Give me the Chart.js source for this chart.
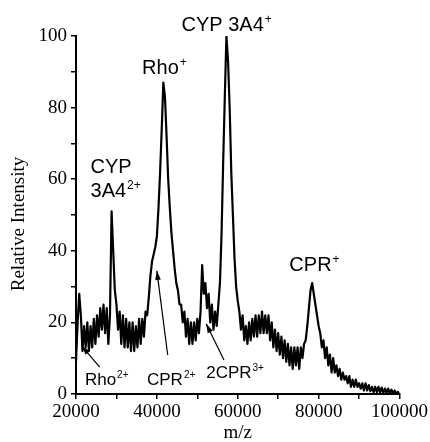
<!DOCTYPE html>
<html>
<head>
<meta charset="utf-8">
<script src="https://cdn.jsdelivr.net/npm/chart.js@4"></script>
<style>
  body { margin: 0; background: #fff; }
  canvas { display: block; }
</style>
</head>
<body>
<canvas id="chart" width="430" height="442"></canvas>
<script>
// spectrum sampled every 400 m/z from 20000 to 100000
const mzStart = 20000;
const mzStep = 400;
const intensity = [
  9, 20, 28, 22, 12, 19, 13, 20, 12, 19,       // 20000
  13, 21, 14, 22, 16, 24, 18, 25, 17, 24,      // 24000
  14, 22, 51, 40, 29, 25, 18, 23, 14, 22,      // 28000
  13, 21, 13, 20, 12, 20, 12, 19, 13, 21,      // 32000
  14, 21, 16, 23, 22, 27, 33, 37, 39, 41,      // 36000
  44, 52, 62, 74, 87, 83, 72, 60, 52, 45,      // 40000
  40, 35, 31, 29, 25, 25, 20, 23, 16, 21,      // 44000
  14, 20, 14, 20, 15, 21, 17, 23, 36, 28,      // 48000
  31, 24, 28, 20, 25, 18, 23, 19, 25, 31,      // 52000
  45, 65, 83, 100, 93, 80, 62, 50, 38, 30,     // 56000
  26, 23, 18, 22, 15, 19, 14, 20, 15, 21,      // 60000
  16, 22, 16, 22, 17, 23, 17, 22, 17, 22,      // 64000
  15, 20, 13, 18, 12, 17, 11, 16, 10, 15,      // 68000
  9, 14, 8, 13, 7, 13, 8, 13, 7, 13,           // 72000
  10, 14, 15, 19, 24, 29, 31, 28, 25, 22,      // 76000
  19, 17, 13, 15, 10, 13, 8, 11, 6, 10,        // 80000
  6, 8, 5, 7, 4, 6, 4, 5, 3, 5,                // 84000
  2, 4, 2, 4, 2, 3, 1.5, 3, 1, 3,              // 88000
  1, 2.5, 0.8, 2, 0.5, 2, 0.5, 2, 0.4, 1.8,    // 92000
  0.3, 1.5, 0.3, 1.5, 0.2, 1.2, 0.2, 1, 0.1, 0.6, // 96000
  0
];

const xTicks = [20000, 40000, 60000, 80000, 100000];
const yTicks = [0, 20, 40, 60, 80, 100];

// peak labels: text, superscript, left edge (m/z), baseline (intensity), font size
const labelText = ['CYP 3A4', 'Rho', 'CYP', '3A4', 'CPR', 'Rho', 'CPR', '2CPR'];
const labelSup = ['+', '+', '', '2+', '+', '2+', '2+', '3+'];
const labelMz = [46100, 36340, 23590, 23590, 72760, 22200, 37560, 52200];
const labelY = [101.4, 89.4, 61.8, 54.9, 34.4, 2.5, 2.5, 4.5];
const labelSize = [20, 20, 20, 20, 20, 17, 17, 17];

// arrows: tail -> tip
const arrowFromMz = [25850, 42680, 56590];
const arrowFromY = [7.5, 10.9, 9.5];
const arrowToMz = [21460, 40000, 52200];
const arrowToY = [13.4, 34.4, 19.6];

const points = intensity.map((v, i) => ({ x: mzStart + i * mzStep, y: v }));

const serif = { family: '"Liberation Serif", "Times New Roman", serif', size: 19 };
const sans = '"Liberation Sans", Arial, sans-serif';

const annotations = {
  id: 'annotations',
  afterDraw(chart) {
    const ctx = chart.ctx;
    const xs = chart.scales.x;
    const ys = chart.scales.y;
    ctx.save();
    ctx.fillStyle = '#000';
    ctx.strokeStyle = '#000';
    ctx.textBaseline = 'alphabetic';
    ctx.textAlign = 'left';
    labelText.forEach((t, i) => {
      const px = xs.getPixelForValue(labelMz[i]);
      const py = ys.getPixelForValue(labelY[i]);
      const size = labelSize[i];
      ctx.font = size + 'px ' + sans;
      ctx.fillText(t, px, py);
      if (labelSup[i]) {
        const w = ctx.measureText(t).width;
        ctx.font = Math.round(size * 0.58) + 'px ' + sans;
        ctx.fillText(labelSup[i], px + w + 1, py - size * 0.4);
      }
    });
    ctx.lineWidth = 1.2;
    arrowFromMz.forEach((m, i) => {
      const x1 = xs.getPixelForValue(m);
      const y1 = ys.getPixelForValue(arrowFromY[i]);
      const x2 = xs.getPixelForValue(arrowToMz[i]);
      const y2 = ys.getPixelForValue(arrowToY[i]);
      const a = Math.atan2(y2 - y1, x2 - x1);
      ctx.beginPath();
      ctx.moveTo(x1, y1);
      ctx.lineTo(x2, y2);
      ctx.stroke();
      const len = 9, half = 2.8;
      ctx.beginPath();
      ctx.moveTo(x2, y2);
      ctx.lineTo(x2 - len * Math.cos(a) + half * Math.sin(a), y2 - len * Math.sin(a) - half * Math.cos(a));
      ctx.lineTo(x2 - len * Math.cos(a) - half * Math.sin(a), y2 - len * Math.sin(a) + half * Math.cos(a));
      ctx.closePath();
      ctx.fill();
    });
    // axis titles
    ctx.font = serif.size + 'px ' + serif.family;
    ctx.textAlign = 'center';
    ctx.fillText('m/z', (xs.left + xs.right) / 2, 438);
    ctx.translate(24, 224);
    ctx.rotate(-Math.PI / 2);
    ctx.fillText('Relative Intensity', 0, 0);
    ctx.restore();
  }
};

new Chart(document.getElementById('chart').getContext('2d'), {
  type: 'line',
  data: {
    datasets: [{
      data: points,
      borderColor: '#000',
      borderWidth: 2.2,
      borderJoinStyle: 'round',
      pointRadius: 0,
      tension: 0,
      fill: false
    }]
  },
  options: {
    responsive: false,
    animation: false,
    layout: { padding: { left: 0, right: 26, top: 36, bottom: 0 } },
    plugins: { legend: { display: false }, tooltip: { enabled: false } },
    scales: {
      x: {
        type: 'linear',
        min: 20000,
        max: 100000,
        afterFit: (s) => { s.height = 48; },
        ticks: {
          stepSize: 10000,
          autoSkip: false,
          maxRotation: 0,
          color: '#000',
          font: serif,
          padding: 2,
          callback: (v) => xTicks.includes(v) ? String(v) : ''
        },
        grid: { drawOnChartArea: false, tickLength: 5, color: '#000', lineWidth: 1.5 },
        border: { color: '#000', width: 2 }
      },
      y: {
        min: 0,
        max: 100,
        afterFit: (s) => { s.width = 76; },
        ticks: {
          stepSize: 10,
          autoSkip: false,
          color: '#000',
          font: serif,
          padding: 4,
          callback: (v) => yTicks.includes(v) ? String(v) : ''
        },
        grid: { drawOnChartArea: false, tickLength: 5, color: '#000', lineWidth: 1.5 },
        border: { color: '#000', width: 2 }
      }
    }
  },
  plugins: [annotations]
});
</script>
</body>
</html>
